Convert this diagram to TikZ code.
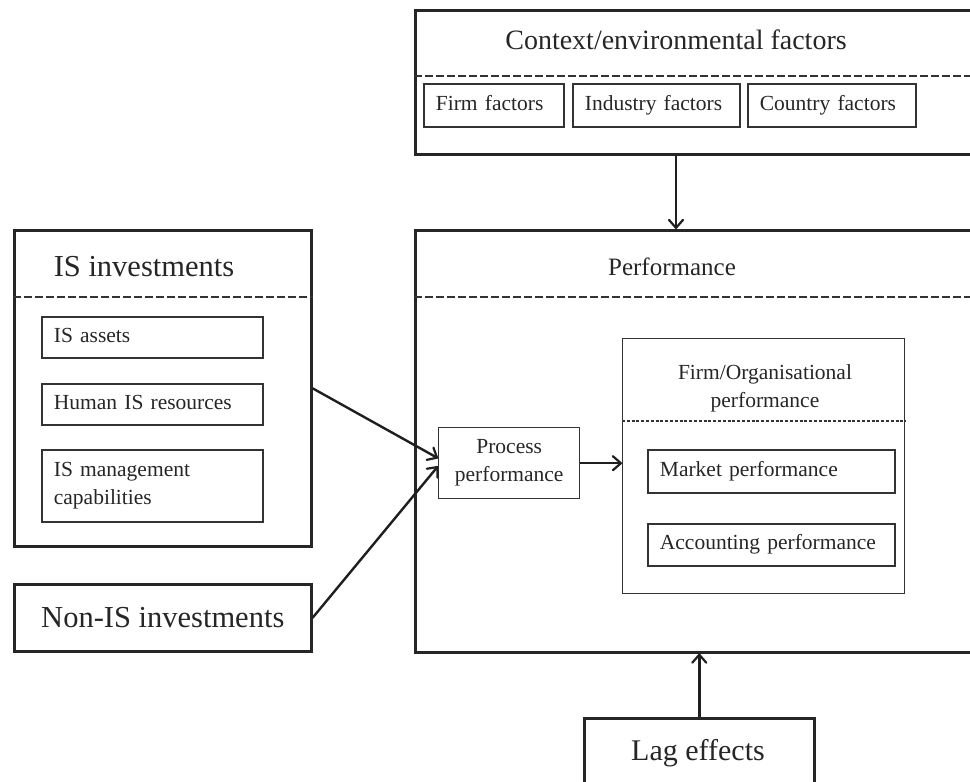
\documentclass[tikz,border=0pt]{standalone}
\usepackage{fontspec}
\setmainfont{Liberation Serif}
\usetikzlibrary{arrows.meta,calc}
\begin{document}
\begin{tikzpicture}[x=1pt,y=-1pt,
  outerbox/.style={draw=black!85, line width=2.6pt, rectangle, anchor=north west, inner sep=0pt},
  itembox/.style={draw=black!80, line width=1.8pt, rectangle, anchor=north west,
    inner xsep=12pt, inner ysep=0pt, align=left, text=black!85},
  thinbox/.style={draw=black!80, line width=1.4pt, rectangle, anchor=north west, inner sep=0pt},
  sepline/.style={draw=black!80, line width=2.4pt, dash pattern=on 7.5pt off 3.5pt},
  finesep/.style={draw=black!80, line width=1.3pt, dash pattern=on 3pt off 1.8pt},
  arr/.style={draw=black!88, line width=2.4pt,
    -{Straight Barb[length=8pt, width=14pt, line width=2.2pt, round]}},
  label/.style={text=black!85, inner sep=0pt},
  small/.style={font=\fontsize{21.5}{28}\selectfont},
  oneline/.style={text height=15pt, text depth=5pt},
]
\useasboundingbox (0,0) rectangle (970,782);
\clip (0,0) rectangle (970,782);

% context / environmental factors
\node[outerbox, minimum width=576pt, minimum height=144pt] (ctx) at (414,9) {};
\node[label, font=\fontsize{28}{32}\selectfont] (ctxt) at (676,40) {Context/environmental factors};
\draw[sepline] (ctx.west |- 0,76) -- (ctx.east |- 0,76);
\node[itembox, small, oneline, text width=116pt, minimum height=43pt] (firmf) at (423,83) {Firm factors};
\node[itembox, small, oneline, text width=143pt, minimum height=43pt] (indf) at (572,83) {Industry factors};
\node[itembox, small, oneline, text width=144pt, minimum height=43pt] (ctryf) at (747,83) {Country factors};

% performance
\node[outerbox, minimum width=576pt, minimum height=422pt] (perf) at (414,229) {};
\node[label, font=\fontsize{25}{30}\selectfont] (perft) at (672,267) {Performance};
\draw[sepline] (perf.west |- 0,297) -- (perf.east |- 0,297);

\node[thinbox, minimum width=141pt, minimum height=71pt] (proc) at (438,427) {};
\node[label, small, align=center] (proct) at (proc.center) {Process\\performance};

\node[thinbox, minimum width=282pt, minimum height=255pt] (firm) at (622,338) {};
\node[label, small, align=center] (firmt) at (765,388) {Firm/Organisational\\performance};
\draw[finesep] (firm.west |- 0,421) -- (firm.east |- 0,421);
\node[itembox, small, oneline, text width=223pt, minimum height=43pt] (mkt) at (647,449) {Market performance};
\node[itembox, small, oneline, text width=223pt, minimum height=42pt] (acc) at (647,523) {Accounting performance};

% IS investments
\node[outerbox, minimum width=297pt, minimum height=316pt] (isinv) at (13,229) {};
\node[label, font=\fontsize{30.5}{34}\selectfont] (isinvt) at (144,267) {IS investments};
\draw[sepline] (isinv.west |- 0,297) -- (isinv.east |- 0,297);
\node[itembox, small, oneline, text width=197pt, minimum height=41pt] (assets) at (41,316) {IS assets};
\node[itembox, small, oneline, text width=197pt, minimum height=41pt] (human) at (41,383) {Human IS resources};
\node[itembox, small, text width=197pt, minimum height=72pt] (mgmt) at (41,449) {IS management\\capabilities};

% non-IS investments
\node[outerbox, minimum width=297pt, minimum height=67pt] (nonis) at (13,583) {};
\node[label, font=\fontsize{30.5}{34}\selectfont] (nonist) at (nonis.center) {Non-IS investments};

% lag effects
\node[outerbox, minimum width=230pt, minimum height=100pt] (lag) at (583,717) {};
\node[label, font=\fontsize{30}{34}\selectfont] (lagt) at (698,753) {Lag effects};

% connectors
\draw[arr] (ctxt |- ctx.south) -- (ctxt |- perf.north);
\draw[arr] (lag.north) -- (lag.north |- perf.south);
\draw[arr] (isinv.east) -- ([yshift=5pt]proc.west);
\draw[arr] (nonis.east) -- ([yshift=-3pt]proc.west);
\draw[arr] (proc.east) -- (proc.east -| firm.west);
\end{tikzpicture}
\end{document}
